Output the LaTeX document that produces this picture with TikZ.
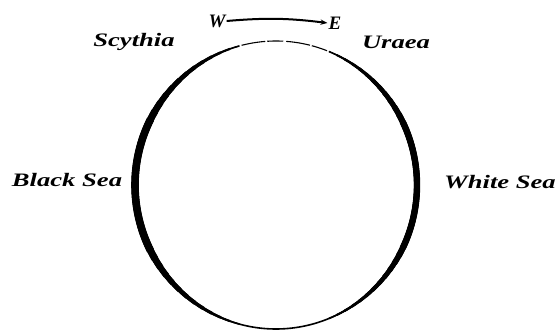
\documentclass[tikz,border=0pt]{standalone}
\usepackage{fontspec}
\setmainfont{Liberation Serif}
\usetikzlibrary{arrows.meta}

\tikzset{
  place/.style={font=\fontsize{19}{22}\selectfont\itshape\bfseries, inner sep=1pt, xscale=1.4},
  wind/.style={font=\fontsize{19}{21}\selectfont\itshape\bfseries, inner sep=1pt},
  rim/.style={line width=1.6pt}
}

\begin{document}
\begin{tikzpicture}[x=1pt, y=-1pt]
\useasboundingbox (0,0) rectangle (555,331);

% the circle, heavier on the sides, broken at the top
\coordinate (c) at (276,185);
\draw [rim] (c) ++(-50:141 and 144)
  arc [start angle=-50, end angle=230, x radius=141, y radius=144];
\draw [line width=1.1pt, dash pattern=on 16pt off 3pt on 24pt off 2pt]
  (c) ++(-130:141 and 144)
  arc [start angle=-130, end angle=-50, x radius=141, y radius=144];
\foreach \k in {0,...,12} {
  \pgfmathsetmacro\a{75-4*\k}
  \pgfmathsetmacro\w{1.6+0.5*\k}
  \draw [line width=\w pt] (c) ++(180-\a:141 and 144)
    arc [start angle=180-\a, end angle=180+\a, x radius=141, y radius=144];
}
\foreach \k in {0,...,12} {
  \pgfmathsetmacro\a{68-3.5*\k}
  \pgfmathsetmacro\w{1.6+0.4*\k}
  \draw [line width=\w pt] (c) ++(\a:141 and 144)
    arc [start angle=\a, end angle=-\a, x radius=141, y radius=144];
}

% labels
\node [place] (scythia) at (134,42) {Scythia};
\node [place] (uraea) at (396,42) {Uraea};
\node [place] (black) at (67,180) {Black Sea};
\node [place] (white) at (500,182) {White Sea};

% west to east
\node [wind] (w) at (217,21) {W};
\node [wind] (e) at (335,23) {E};
\draw [line width=2pt, -{Stealth[length=7pt]}] (w.east) to[bend left=6] (e.west);

\end{tikzpicture}
\end{document}
